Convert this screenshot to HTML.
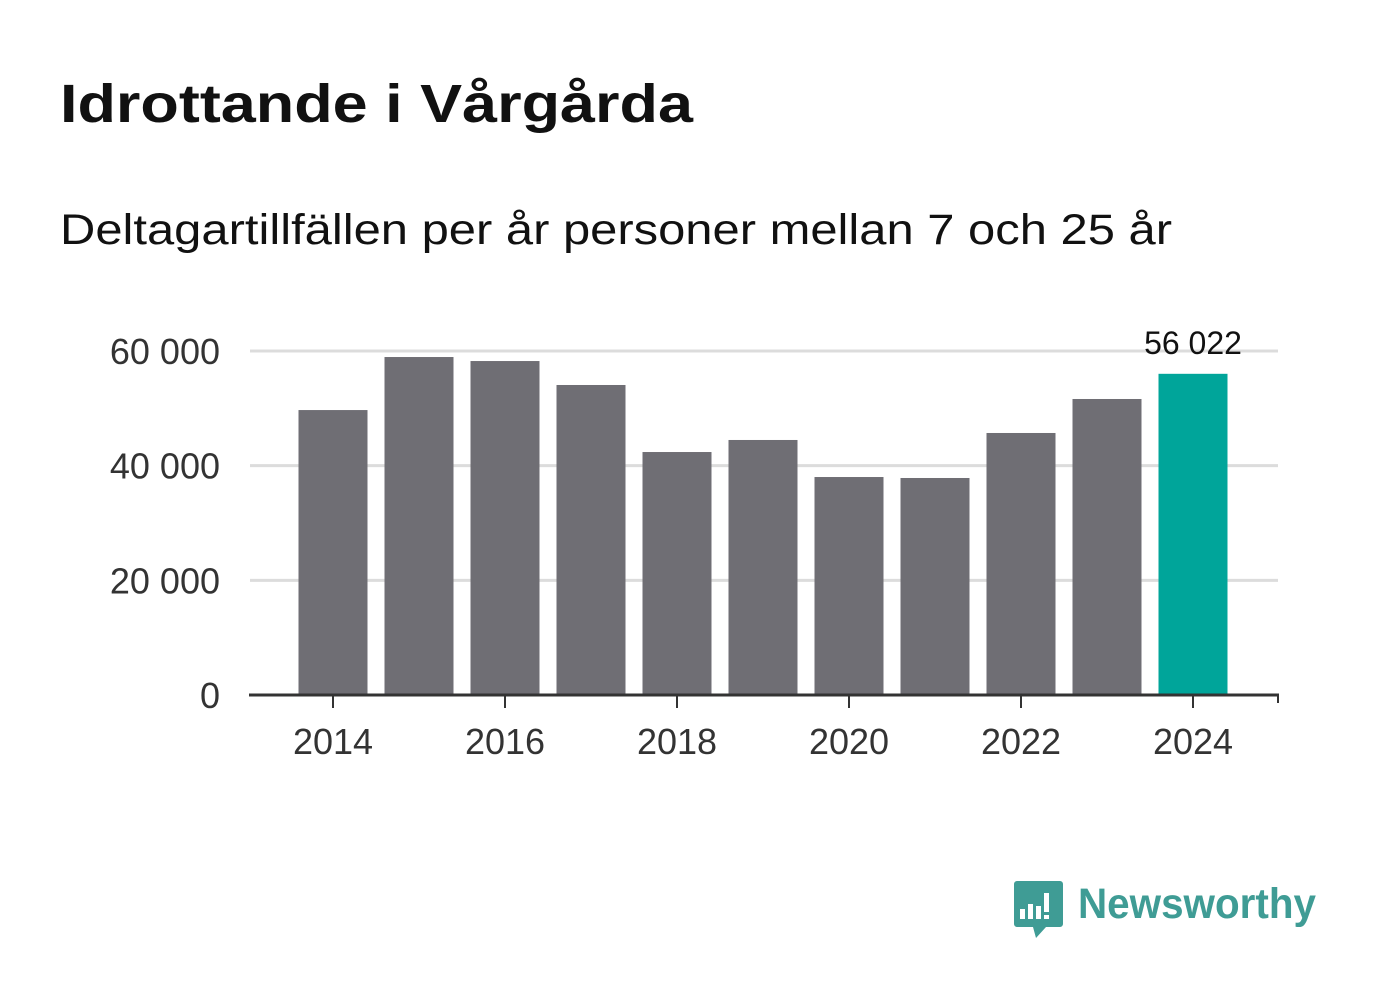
<!DOCTYPE html>
<html><head><meta charset="utf-8"><style>
body{margin:0;background:#fff;width:1382px;height:999px;overflow:hidden;font-family:"Liberation Sans","DejaVu Sans",sans-serif}
</style></head><body>
<svg id="c" width="1382" height="999" xmlns="http://www.w3.org/2000/svg">
<text x="60" y="122" font-size="54" font-weight="bold" fill="#111" textLength="633" lengthAdjust="spacingAndGlyphs">Idrottande i Vårgårda</text>
<text x="60" y="244" font-size="43" fill="#111" textLength="1112" lengthAdjust="spacingAndGlyphs">Deltagartillfällen per år personer mellan 7 och 25 år</text>
<g id="grid"></g><g id="bars"></g><g id="xax"></g>
<g>
<path d="M1014,881 h46 a3,3 0 0 1 3,3 v40 a3,3 0 0 1 -3,3 h-14 l-10,11 l-3,-11 h-16 a3,3 0 0 1 -3,-3 v-40 a3,3 0 0 1 3,-3z" fill="#3f9c95"/>
<rect x="1020" y="909" width="5" height="10" fill="#fff"/><rect x="1028" y="904" width="5" height="15" fill="#fff"/><rect x="1036" y="906" width="5" height="13" fill="#fff"/><rect x="1044" y="893" width="5" height="19" fill="#fff"/><rect x="1044" y="915" width="5" height="4" fill="#fff"/>
<text x="1078" y="918" font-size="43" font-weight="bold" fill="#3f9c95" textLength="238" lengthAdjust="spacingAndGlyphs">Newsworthy</text>
</g>
</svg>
<script>
const years=[2014,2015,2016,2017,2018,2019,2020,2021,2022,2023,2024];
const values=[49700,58950,58250,54070,42380,44480,38020,37850,45700,51630,56022];
const yTicks=[0,20000,40000,60000];
const xTickLabels=[2014,2016,2018,2020,2022,2024];
const NS="http://www.w3.org/2000/svg";
const y0=695,ppu=344/60000;
const y=v=>y0-v*ppu;
const x=yr=>333+(yr-2014)*86;
const fmt=n=>String(n).replace(/\B(?=(\d{3})+(?!\d))/g," ");
function mk(t,a,p){const e=document.createElementNS(NS,t);for(const k in a)e.setAttribute(k,a[k]);p.appendChild(e);return e;}
const g=document.getElementById('grid'),b=document.getElementById('bars'),xa=document.getElementById('xax');
yTicks.forEach(v=>{
 if(v>0){const l=mk('line',{x1:250,x2:1278,y1:y(v),y2:y(v),stroke:'#dcdcdc','stroke-width':3},g);
 
 }
 const t=mk('text',{x:220,y:y(v)+13,'font-size':36,fill:'#333','text-anchor':'end'},g);t.textContent=fmt(v);
 
 
});
years.forEach((yr,i)=>{
 const last=i===years.length-1;
 const r=mk('rect',{x:x(yr)-34.5,y:y(values[i]),width:69,height:y0-y(values[i]),fill:last?'#00a59a':'#6f6e74'},b);
 
 
 if(last){const t=mk('text',{x:x(yr),y:y(values[i])-20,'font-size':32,fill:'#111','text-anchor':'middle'},b);t.textContent=fmt(values[i]);
 
 }
});
const ax=mk('line',{x1:249,x2:1279,y1:y0,y2:y0,stroke:'#333','stroke-width':3},xa);


xTickLabels.forEach(yr=>{
 mk('line',{x1:x(yr),x2:x(yr),y1:y0,y2:y0+13,stroke:'#333','stroke-width':2},xa);
 const t=mk('text',{x:x(yr),y:754,'font-size':36,fill:'#333','text-anchor':'middle'},xa);t.textContent=yr;
 
 
});
mk('line',{x1:1278,x2:1278,y1:y0,y2:y0+8,stroke:'#333','stroke-width':2},xa);
</script>
</body></html>
